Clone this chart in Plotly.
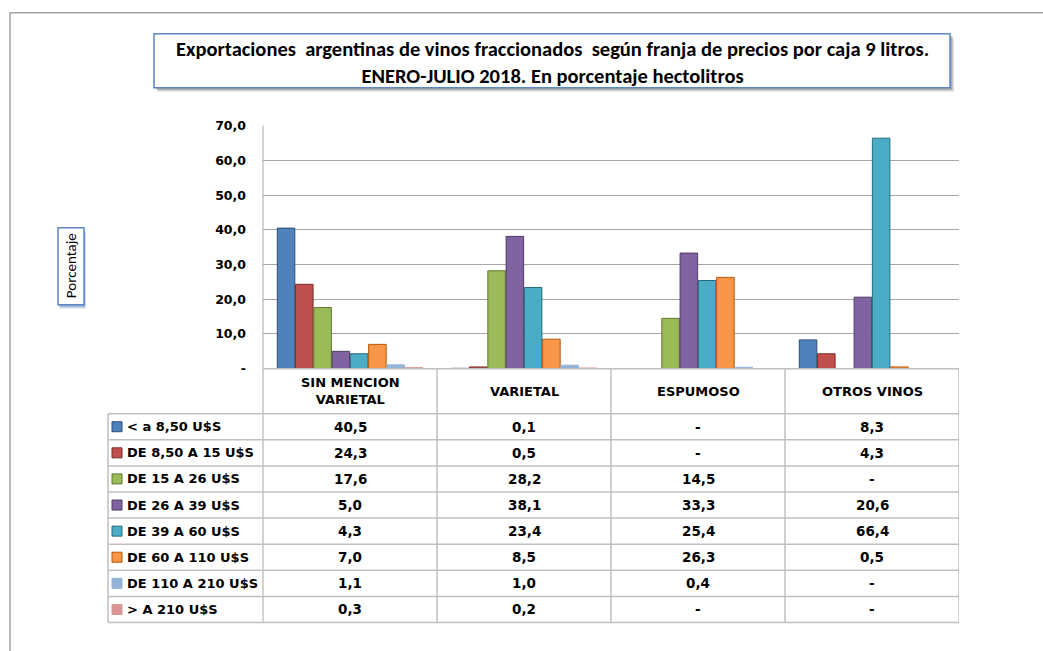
import plotly.graph_objects as go

# ---------------- data ----------------
categories = ["SIN MENCION<br>VARIETAL", "VARIETAL", "ESPUMOSO", "OTROS VINOS"]
series_names = ["< a 8,50 U$S", "DE 8,50 A 15 U$S", "DE 15 A 26 U$S", "DE 26 A 39 U$S",
                "DE 39 A 60 U$S", "DE 60 A 110 U$S", "DE 110 A 210 U$S", "> A 210 U$S"]
s_lt_8_50 = [40.5, 0.1, None, 8.3]
s_8_50_15 = [24.3, 0.5, None, 4.3]
s_15_26 = [17.6, 28.2, 14.5, None]
s_26_39 = [5.0, 38.1, 33.3, 20.6]
s_39_60 = [4.3, 23.4, 25.4, 66.4]
s_60_110 = [7.0, 8.5, 26.3, 0.5]
s_110_210 = [1.1, 1.0, 0.4, None]
s_gt_210 = [0.3, 0.2, None, None]
series_values = [s_lt_8_50, s_8_50_15, s_15_26, s_26_39, s_39_60, s_60_110, s_110_210, s_gt_210]
colors = ["#4F81BD", "#C0504D", "#9BBB59", "#8064A2", "#4BACC6", "#F79646", "#95B3D7", "#D99694"]
edge_colors = ["#2C4D75", "#772C2A", "#5F7530", "#4D3B62", "#276A7C", "#B65708", "#95B3D7", "#D99694"]
tick_vals = [0, 10, 20, 30, 40, 50, 60, 70]
tick_text = ["-", "10,0", "20,0", "30,0", "40,0", "50,0", "60,0", "70,0"]
title_line1 = "Exportaciones  argentinas de vinos fraccionados  según franja de precios por caja 9 litros."
title_line2 = "ENERO-JULIO 2018. En porcentaje hectolitros"
y_title = "Porcentaje"

W, H = 1043, 651
# calibration of the vertical mapping observed in the rendered page
VS, VO = 0.977, 7.3
def px(x):
    return x / W
def py(y):
    return 1 - ((y - VO) / VS) / H

# layout geometry (pixels, as seen in the reference)
PL, PR, PT, PB = 263, 959, 125, 368
TBL_LEFT = 108
HDR_BOTTOM = 413
ROW_H = 26.1
GRID = "#BFBFBF"

x_idx = list(range(len(categories)))

fig = go.Figure()
for name, vals, c, ec in zip(series_names, series_values, colors, edge_colors):
    fig.add_trace(go.Bar(
        x=x_idx, y=vals, name=name,
        marker=dict(color=c, line=dict(color=ec, width=1)),
        hoverinfo="skip", showlegend=False,
    ))

fig.update_layout(
    width=W, height=H, autosize=False,
    margin=dict(l=0, r=0, t=0, b=0),
    paper_bgcolor="white", plot_bgcolor="white",
    barmode="group", bargap=0.16, bargroupgap=0.04,
    font=dict(family="DejaVu Sans", color="black"),
    xaxis=dict(domain=[px(PL), px(PR)], range=[-0.5, len(categories) - 0.5],
               showticklabels=False, showgrid=False, zeroline=False,
               showline=False, fixedrange=True),
    yaxis=dict(domain=[py(PB), py(PT)], range=[0, 70],
               tickvals=tick_vals, ticktext=tick_text,
               tickfont=dict(family="DejaVu Sans", size=12.5, color="black", weight="bold"),
               showgrid=True, gridcolor="#A6A6A6", gridwidth=1,
               zeroline=False, showline=False, ticks="", ticklabelstandoff=16,
               fixedrange=True),
)

shapes = []
# outer frame (left and top)
shapes.append(dict(type="line", xref="paper", yref="paper", x0=px(10), x1=px(10), y0=py(12), y1=py(670),
                   line=dict(color="#A0A0A0", width=1.5)))
shapes.append(dict(type="line", xref="paper", yref="paper", x0=px(10), x1=px(1060), y0=py(12), y1=py(12),
                   line=dict(color="#A0A0A0", width=1.5)))
# left axis line extended through the table
shapes.append(dict(type="line", xref="paper", yref="paper", x0=px(PL), x1=px(PL), y0=py(PT), y1=py(HDR_BOTTOM + 8 * ROW_H),
                   line=dict(color="#A6A6A6", width=1)))
# x-axis line / header top
shapes.append(dict(type="line", xref="paper", yref="paper", x0=px(PL), x1=px(PR), y0=py(PB), y1=py(PB),
                   line=dict(color=GRID, width=1.5)))
# column separators
for i in range(1, len(categories) + 1):
    shapes.append(dict(type="line", xref="x", yref="paper", x0=i - 0.5, x1=i - 0.5,
                       y0=py(PB), y1=py(HDR_BOTTOM + 8 * ROW_H), line=dict(color=GRID, width=1.5)))
# row lines
for r in range(len(series_names) + 1):
    yy = HDR_BOTTOM + r * ROW_H
    shapes.append(dict(type="line", xref="paper", yref="paper", x0=px(TBL_LEFT), x1=px(PR), y0=py(yy), y1=py(yy),
                       line=dict(color=GRID, width=1.5)))
shapes.append(dict(type="line", xref="paper", yref="paper", x0=px(TBL_LEFT), x1=px(TBL_LEFT),
                   y0=py(HDR_BOTTOM), y1=py(HDR_BOTTOM + 8 * ROW_H), line=dict(color=GRID, width=1.5)))

# title box with shadow
for k, op in [(4, 0.15), (3, 0.2), (2, 0.25)]:
    shapes.append(dict(type="rect", xref="paper", yref="paper", x0=px(154 + k), x1=px(950 + k),
                       y0=py(87 + k), y1=py(33 + k), line=dict(width=0), fillcolor="rgba(80,80,80,%.2f)" % op))
shapes.append(dict(type="rect", xref="paper", yref="paper", x0=px(154), x1=px(950), y0=py(87), y1=py(33),
                   line=dict(color="#5B87C2", width=1.5), fillcolor="white"))
# y-title box with shadow
for k, op in [(4, 0.15), (3, 0.2), (2, 0.25)]:
    shapes.append(dict(type="rect", xref="paper", yref="paper", x0=px(58 + k * 0.5), x1=px(84 + k * 0.5),
                       y0=py(304 + k), y1=py(227 + k), line=dict(width=0), fillcolor="rgba(60,100,170,%.2f)" % op))
shapes.append(dict(type="rect", xref="paper", yref="paper", x0=px(58), x1=px(84), y0=py(304), y1=py(227),
                   line=dict(color="#5B87C2", width=1.5), fillcolor="white"))
# legend keys in the table
for r, (c, ec) in enumerate(zip(colors, edge_colors)):
    yc = HDR_BOTTOM + (r + 0.5) * ROW_H
    shapes.append(dict(type="rect", xref="paper", yref="paper", x0=px(112), x1=px(122),
                       y0=py(yc + 5), y1=py(yc - 5), line=dict(color=ec, width=1), fillcolor=c))

title_font = dict(family="Carlito, Liberation Sans Narrow, Open Sans", size=20.5, color="black", weight="bold")
annotations = []
annotations.append(dict(text=title_line1 + "<br>" + title_line2, xref="paper", yref="paper", x=px(552), y=py(61.5),
                        showarrow=False, xanchor="center", yanchor="middle", align="center", font=title_font))
annotations.append(dict(text=y_title, xref="paper", yref="paper", x=px(71), y=py(265.5), textangle=-90,
                        showarrow=False, xanchor="center", yanchor="middle",
                        font=dict(family="Carlito, Open Sans", size=15, color="black")))
# column headers
for i, cat in enumerate(categories):
    annotations.append(dict(text=cat, xref="x", yref="paper", x=i, y=py((PB + HDR_BOTTOM) / 2),
                            showarrow=False, xanchor="center", yanchor="middle", align="center",
                            font=dict(family="DejaVu Sans", size=13, color="black", weight="bold")))
# rows
def fmt(v):
    if v is None:
        return "-"
    return ("%.1f" % v).replace(".", ",")
for r, (name, vals) in enumerate(zip(series_names, series_values)):
    yc = HDR_BOTTOM + (r + 0.5) * ROW_H
    annotations.append(dict(text=name.replace("<", "&lt;").replace(">", "&gt;"), xref="paper", yref="paper",
                            x=px(125), y=py(yc), showarrow=False, xanchor="left", yanchor="middle",
                            font=dict(family="DejaVu Sans", size=13, color="black", weight="bold")))
    for i, v in enumerate(vals):
        annotations.append(dict(text=fmt(v), xref="x", yref="paper", x=i, y=py(yc),
                                showarrow=False, xanchor="center", yanchor="middle",
                                font=dict(family="DejaVu Sans", size=13.5, color="black", weight="bold")))

fig.update_layout(shapes=shapes, annotations=annotations)
fig.write_html("out.html", config={"displayModeBar": False},
               post_script="document.body.style.margin='0';document.body.style.padding='0';")
